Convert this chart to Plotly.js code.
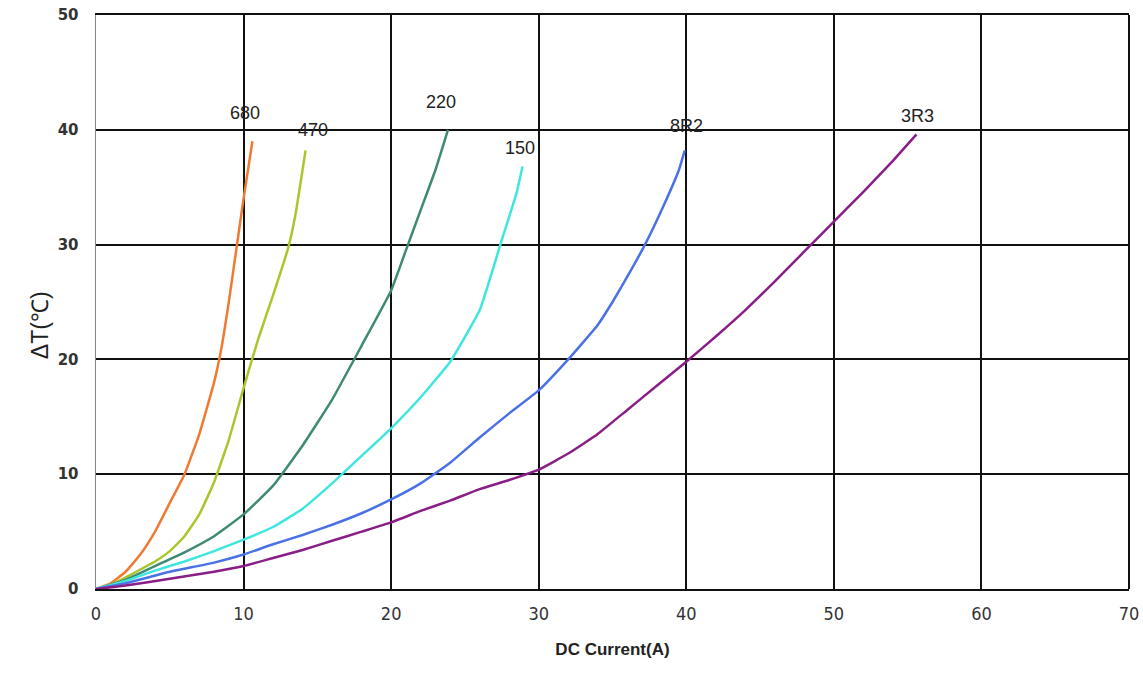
<!DOCTYPE html>
<html>
<head>
<meta charset="utf-8">
<script src="https://cdn.plot.ly/plotly-3.0.1.min.js"></script>
<style>html,body{margin:0;padding:0;background:#fff}#chart{width:1143px;height:690px}</style>
</head>
<body>
<div id="chart"></div>
<script>
// Series names
const seriesNames = ["680", "470", "220", "150", "8R2", "3R3"];
// DC current (A) and temperature rise (°C)
const x680 = [0, 1, 2, 3, 4, 5, 6, 7, 8, 8.5, 9, 9.5, 10, 10.6];
const y680 = [0, 0.5, 1.5, 3, 5, 7.5, 10, 13.5, 18, 21, 25, 29.5, 34, 39];
const x470 = [0, 1, 2, 3, 4, 5, 6, 7, 8, 9, 10, 11, 12, 13, 13.5, 14.2];
const y470 = [0, 0.4, 1, 1.7, 2.4, 3.3, 4.6, 6.5, 9.3, 13, 17.5, 21.8, 25.6, 29.6, 32.5, 38.2];
const x220 = [0, 2, 4, 6, 8, 10, 12, 14, 16, 18, 20, 21, 22, 23, 23.85];
const y220 = [0, 0.8, 2, 3.2, 4.6, 6.5, 9, 12.5, 16.5, 21.2, 26, 29.5, 33, 36.5, 40];
const x150 = [0, 2, 4, 6, 8, 10, 12, 14, 16, 18, 20, 22, 24, 26, 27.4, 28.5, 28.9];
const y150 = [0, 0.7, 1.6, 2.4, 3.3, 4.3, 5.4, 7, 9.2, 11.6, 14, 16.7, 19.8, 24.3, 30, 34.5, 36.8];
const x8R2 = [0, 2, 5, 8, 10, 12, 14, 16, 18, 20, 22, 24, 26, 28, 30, 32, 34, 35, 36, 37.2, 38.5, 39.5, 39.9];
const y8R2 = [0, 0.5, 1.5, 2.3, 3, 3.9, 4.7, 5.6, 6.6, 7.8, 9.2, 11, 13.2, 15.3, 17.3, 20, 23, 25, 27.2, 30, 33.5, 36.5, 38.2];
const x3R3 = [0, 2, 5, 8, 10, 12, 14, 16, 18, 20, 22, 24, 26, 28, 30, 32, 34, 36, 38, 40, 42, 44, 46, 48, 50, 52, 54, 55.6];
const y3R3 = [0, 0.3, 0.9, 1.5, 2, 2.7, 3.4, 4.2, 5, 5.8, 6.8, 7.7, 8.7, 9.5, 10.4, 11.8, 13.5, 15.6, 17.7, 19.8, 22, 24.3, 26.8, 29.4, 32, 34.6, 37.3, 39.6];
// Label positions (data coords)
const labelX = [10.1, 14.7, 23.4, 28.7, 40.0, 55.7];
const labelY = [41.5, 40.0, 42.4, 38.4, 40.3, 41.2];
const xTicks = [0, 10, 20, 30, 40, 50, 60, 70];
const yTicks = [0, 10, 20, 30, 40, 50];
const yTitle = "ΔT(℃)";
const xTitle = "DC Current(A)";

const xs = [x680, x470, x220, x150, x8R2, x3R3];
const ys = [y680, y470, y220, y150, y8R2, y3R3];
const colors = ["#F07A32", "#A9C72C", "#3F8A72", "#3FE6E0", "#4A72E6", "#881E86"];

const traces = xs.map((x, i) => ({
  x: x, y: ys[i], name: seriesNames[i], type: "scatter", mode: "lines",
  line: {color: colors[i], width: 2.5, shape: "spline", smoothing: 0.4},
  hoverinfo: "x+y+name"
}));

const annotations = seriesNames.map((n, i) => ({
  x: labelX[i], y: labelY[i], xref: "x", yref: "y", text: n, showarrow: false,
  font: {family: "Liberation Sans, Arial, sans-serif", size: 18, color: "#222"}
}));
annotations.push({
  xref: "paper", yref: "paper", x: -0.054, y: 0.46, text: yTitle, textangle: -90,
  showarrow: false, xanchor: "center", yanchor: "middle",
  font: {family: "Liberation Sans, Arial, sans-serif", size: 23, color: "#222"}
});

const layout = {
  width: 1143, height: 690,
  margin: {l: 96, r: 14, t: 15, b: 101},
  paper_bgcolor: "#fff", plot_bgcolor: "#fff",
  showlegend: false,
  xaxis: {
    range: [0, 70], tickvals: xTicks, ticktext: xTicks.map(String),
    showgrid: true, gridcolor: "#111", gridwidth: 2,
    showline: true, linecolor: "#111", linewidth: 2, mirror: true,
    zeroline: false, ticks: "", ticklen: 0, ticklabelstandoff: 7,
    tickfont: {family: "DejaVu Sans Condensed, Liberation Sans Narrow, sans-serif", size: 18, color: "#333"},
    title: {text: "<b>" + xTitle + "</b>", standoff: 21,
      font: {family: "Liberation Sans, Arial, sans-serif", size: 17, color: "#222"}}
  },
  yaxis: {
    range: [0, 50], tickvals: yTicks, ticktext: yTicks.map(String),
    showgrid: true, gridcolor: "#111", gridwidth: 2,
    showline: true, linecolor: "#888", linewidth: 1.5,
    zeroline: false, ticks: "", ticklen: 0, ticklabelstandoff: 13,
    tickfont: {family: "DejaVu Sans, sans-serif", size: 15, color: "#333", weight: "bold"}
  },
  shapes: [
    {type: "line", xref: "paper", yref: "paper", x0: 1, x1: 1, y0: 0, y1: 1, line: {color: "#111", width: 2}}
  ],
  annotations: annotations
};

Plotly.newPlot("chart", traces, layout, {displayModeBar: false, staticPlot: true});
</script>
</body>
</html>
